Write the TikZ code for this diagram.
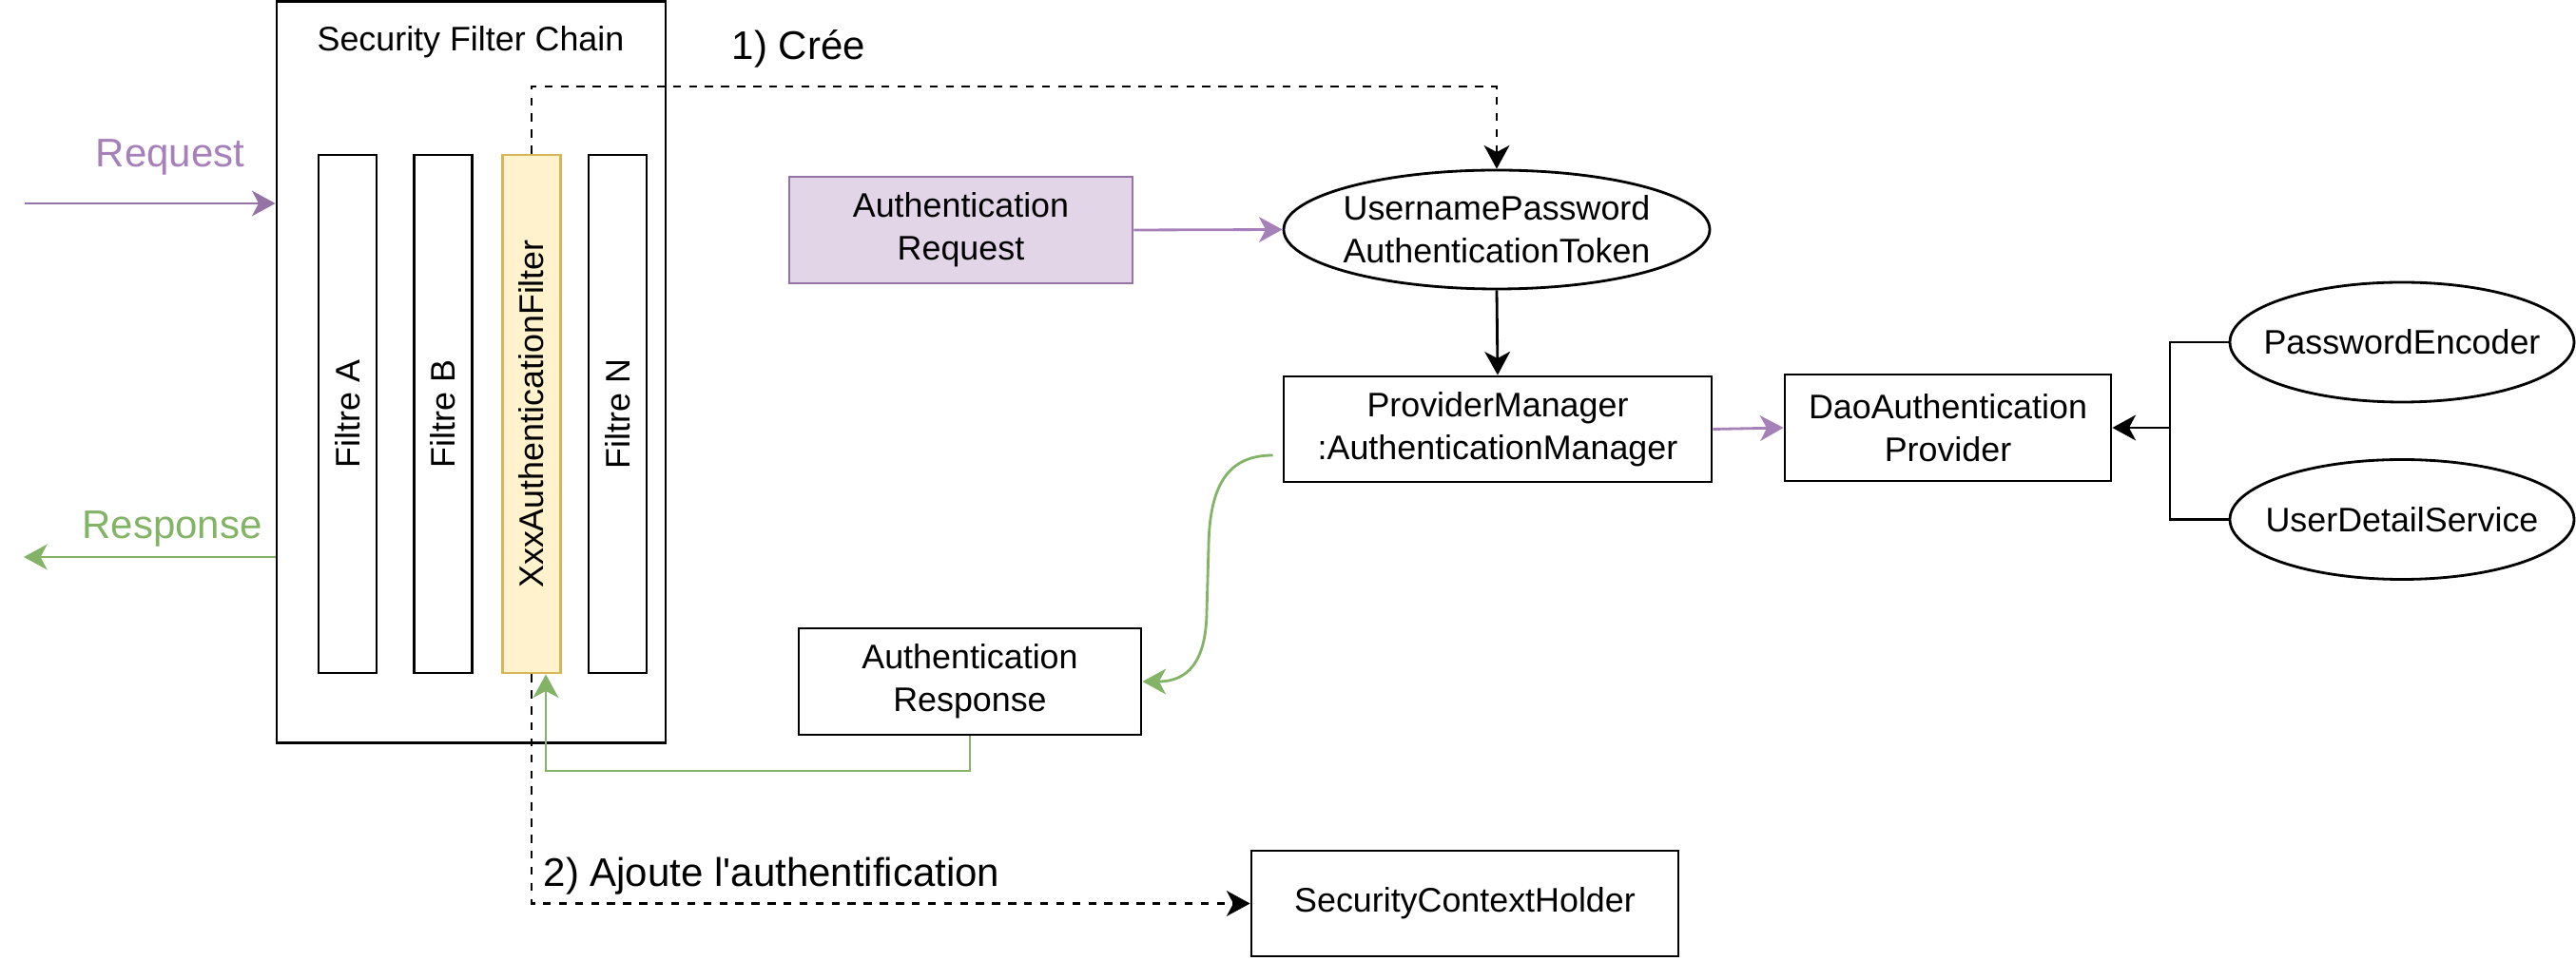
\documentclass[tikz,border=0pt]{standalone}
\usepackage{fontspec}
\setmainfont{Liberation Sans}
\usetikzlibrary{arrows.meta,shapes.geometric}

\definecolor{violet}{HTML}{9673A6}
\definecolor{violettxt}{HTML}{A680B8}
\definecolor{violetfond}{HTML}{E1D5E7}
\definecolor{jaune}{HTML}{D6B656}
\definecolor{jaunefond}{HTML}{FFF2CC}
\definecolor{vert}{HTML}{82B366}

% apostrophe droite (sans la conversion en ’)
\newcommand{\apos}{\XeTeXglyph\XeTeXcharglyph"0027\relax}

\tikzset{
  base/.style={line width=0.8pt, font=\fontsize{10.2pt}{12.8pt}\selectfont},
  bloc/.style={draw, line width=0.8pt, align=center, inner sep=0pt, minimum height=1.12cm},
  ovale/.style={draw, ellipse, line width=0.8pt, align=center, inner xsep=-0.5cm, inner ysep=0pt, minimum width=3.62cm, minimum height=1.26cm},
  filtre/.style={draw, line width=0.8pt, rotate=90, inner sep=0pt, minimum width=5.45cm, minimum height=0.61cm},
  grand/.style={font=\fontsize{11.95pt}{14pt}\selectfont},
  pointille/.style={dash pattern=on 2.4pt off 2.4pt},
}

\begin{document}
\begin{tikzpicture}[x=1cm, y=-1cm, base, >={Stealth[length=7pt,width=7.6pt,inset=2pt]}]
    \useasboundingbox (0,0) rectangle (27.09,10.11);

    \node[draw, line width=0.8pt, minimum width=4.09cm, minimum height=7.80cm] (chaine) at (4.955,3.915) {};
    \node (titre) at (4.95,0.44) {Security Filter Chain};
    \node[filtre] (fA) at (3.655,4.355) {Filtre A};
    \node[filtre] (fB) at (4.66,4.355) {Filtre B};
    \node[filtre, draw=jaune, fill=jaunefond] (fX) at (5.59,4.355) {XxxAuthenticationFilter};
    \node[filtre] (fN) at (6.495,4.355) {Filtre N};

    \node[grand, text=violettxt] (req) at (1.79,1.65) {Request};
    \node[grand, text=vert] (rep) at (1.81,5.56) {Response};
    \coordinate (reqin) at (0.26,2.14);
    \coordinate (repout) at (0.25,5.86);
    \draw[->, violet] (reqin) -- (reqin -| chaine.west);
    \draw[->, vert] (repout -| chaine.west) -- (repout);

    \node[bloc, draw=violet, fill=violetfond, minimum width=3.61cm] (areq) at (10.105,2.42) {Authentication\\Request};
    \node[ovale, minimum width=4.48cm, minimum height=1.25cm] (jeton) at (15.74,2.415) {UsernamePassword\\AuthenticationToken};
    \node[bloc, minimum width=4.5cm, minimum height=1.11cm] (pm) at (15.75,4.515) {ProviderManager\\:AuthenticationManager};
    \node[bloc, minimum width=3.43cm] (dao) at (20.485,4.50) {DaoAuthentication\\Provider};
    \node[ovale] (pe) at (25.26,3.60) {PasswordEncoder};
    \node[ovale] (uds) at (25.26,5.465) {UserDetailService};
    \node[bloc, minimum width=3.60cm] (arep) at (10.20,7.17) {Authentication\\Response};
    \node[bloc, minimum width=4.49cm, minimum height=1.11cm] (sch) at (15.405,9.505) {SecurityContextHolder};

    \node[grand] (cree) at (8.40,0.51) {1) Crée};
    \node[grand] (ajoute) at (8.115,9.22) {2) Ajoute l\apos authentification};

    % fX.east = haut du filtre, fX.west = bas (rotate=90)
    \coordinate (haut) at (5.59,0.91);
    \draw[->, pointille] (fX.east) -- (fX.east |- haut) -| (jeton.north);
    \draw[->, pointille] (fX.west) |- (sch.west);

    \draw[->, violettxt] (areq.east) -- (jeton.west);
    \draw[->] (jeton.south) -- (pm.north);
    \draw[->, violettxt] (pm.east) -- (dao.west);

    \coordinate (jonction) at (22.82,4.50);
    \draw (pe.west) -| (jonction) |- (uds.west);
    \draw[->] (jonction) -- (dao.east);

    \draw[->, vert] ([xshift=-0.1cm, yshift=-0.275cm]pm.west) .. controls (12.95,4.79) and (12.72,5.05) .. (12.71,5.75)
        -- (12.69,6.45) .. controls (12.68,6.95) and (12.50,7.17) .. (arep.east);
    \coordinate (retour) at (5.74,8.11);
    \draw[->, vert] (arep.south) |- (retour) -- (retour |- fX.west);
\end{tikzpicture}
\end{document}
